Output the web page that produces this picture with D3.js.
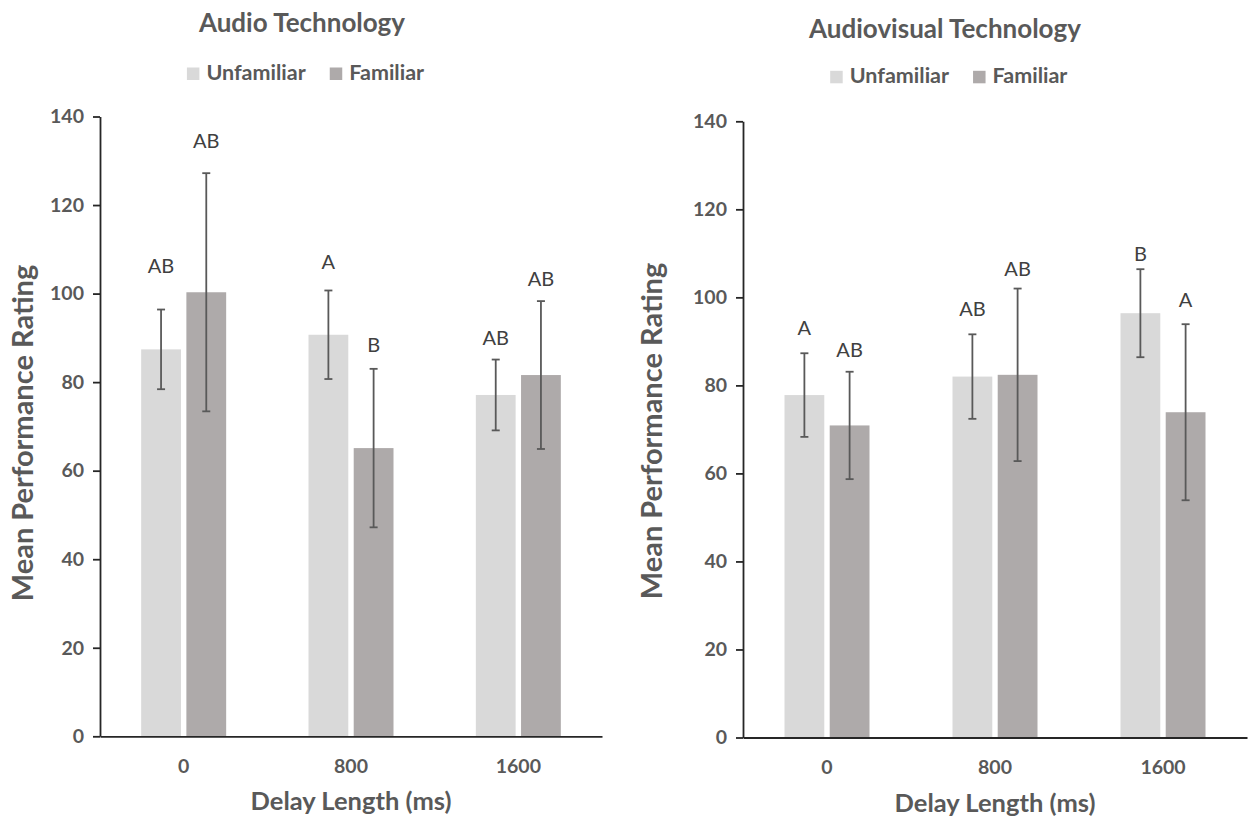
<!DOCTYPE html>
<html>
<head>
<meta charset="utf-8">
<script src="https://cdn.jsdelivr.net/npm/d3@7"></script>
<style>
  body { margin: 0; background: #fff; }
  svg text { font-family: Lato, "Open Sans", sans-serif; }
</style>
</head>
<body>
<div id="vis"></div>
<script>
// categories and series
var delays = ['0', '800', '1600'];
var seriesNames = ['Unfamiliar', 'Familiar'];
var yTicks = [0, 20, 40, 60, 80, 100, 120, 140];

// audio technology panel
var audioUnfamiliar = [87.4, 90.7, 77.1];
var audioFamiliar = [100.3, 65.1, 81.6];
var audioUnfamiliarErr = [9.0, 10.0, 8.0];
var audioFamiliarErr = [26.9, 17.9, 16.7];
var audioUnfamiliarLetters = ['AB', 'A', 'AB'];
var audioFamiliarLetters = ['AB', 'B', 'AB'];
var audioUnfamiliarLetterAt = [106.3, 107.1, 89.9];
var audioFamiliarLetterAt = [134.5, 88.4, 103.3];

// audiovisual technology panel
var avUnfamiliar = [77.8, 82.0, 96.4];
var avFamiliar = [70.9, 82.4, 73.9];
var avUnfamiliarErr = [9.5, 9.6, 10.0];
var avFamiliarErr = [12.2, 19.6, 20.0];
var avUnfamiliarLetters = ['A', 'AB', 'B'];
var avFamiliarLetters = ['AB', 'AB', 'A'];
var avUnfamiliarLetterAt = [93.0, 97.3, 109.8];
var avFamiliarLetterAt = [88.0, 106.4, 99.4];

var colors = { Unfamiliar: '#d9d9d9', Familiar: '#aeaaaa' };
var textGrey = '#595959';

var svg = d3.select('#vis').append('svg')
  .attr('width', 1248)
  .attr('height', 819);

function buildRows(unf, fam, unfErr, famErr, unfLet, famLet, unfAt, famAt) {
  var rows = [];
  for (var i = 0; i < delays.length; i++) {
    rows.push({ delay: delays[i], series: 'Unfamiliar', value: unf[i], err: unfErr[i], letter: unfLet[i], letterAt: unfAt[i] });
    rows.push({ delay: delays[i], series: 'Familiar', value: fam[i], err: famErr[i], letter: famLet[i], letterAt: famAt[i] });
  }
  return rows;
}

function drawPanel(p) {
  var g = svg.append('g');

  var x = d3.scaleBand().domain(delays).range([p.left, p.right]);
  var xs = d3.scaleBand().domain(seriesNames)
    .range([x.bandwidth() / 2 - 42.5, x.bandwidth() / 2 + 42.5])
    .paddingInner(0.12);
  var y = d3.scaleLinear().domain([0, 140]).range([p.bottom, p.top]);

  // title
  g.append('text')
    .attr('x', p.titleX)
    .attr('y', p.titleY)
    .attr('text-anchor', 'middle')
    .attr('font-size', 26)
    .attr('font-weight', 'bold')
    .attr('fill', textGrey)
    .text(p.title);

  // legend, centred on legendX
  var lg = g.append('g');
  var xpos = 0;
  seriesNames.forEach(function (s, i) {
    if (i > 0) xpos += 24;
    lg.append('rect')
      .attr('x', xpos)
      .attr('y', p.legendY - 12.5)
      .attr('width', 12.5)
      .attr('height', 12.5)
      .attr('fill', colors[s]);
    xpos += 19.5;
    var t = lg.append('text')
      .attr('x', xpos)
      .attr('y', p.legendY)
      .attr('font-size', 21.5)
      .attr('font-weight', 'bold')
      .attr('fill', textGrey)
      .text(s);
    xpos += t.node().getComputedTextLength();
  });
  lg.attr('transform', 'translate(' + (p.legendX - xpos / 2) + ',0)');

  // axes
  var yAxis = g.append('g')
    .attr('transform', 'translate(' + p.left + ',0)')
    .call(d3.axisLeft(y).tickValues(yTicks).tickSize(7).tickSizeOuter(0).tickPadding(9));
  yAxis.selectAll('line, path').attr('stroke', '#262626').attr('stroke-width', 1.8);
  yAxis.selectAll('text')
    .attr('font-size', 19.5)
    .attr('font-weight', 'bold')
    .attr('fill', textGrey);

  var rows = buildRows.apply(null, p.data);

  // bars
  g.selectAll('.bar')
    .data(rows)
    .enter()
    .append('rect')
    .attr('class', 'bar')
    .attr('x', function (d) { return x(d.delay) + xs(d.series); })
    .attr('y', function (d) { return y(d.value); })
    .attr('width', xs.bandwidth())
    .attr('height', function (d) { return y(0) - y(d.value); })
    .attr('fill', function (d) { return colors[d.series]; });

  // error bars
  var eb = g.selectAll('.err')
    .data(rows)
    .enter()
    .append('g')
    .attr('class', 'err')
    .attr('stroke', '#595959')
    .attr('stroke-width', 1.8);
  function cx(d) { return x(d.delay) + xs(d.series) + xs.bandwidth() / 2; }
  eb.append('line')
    .attr('x1', cx).attr('x2', cx)
    .attr('y1', function (d) { return y(d.value + d.err); })
    .attr('y2', function (d) { return y(d.value - d.err); });
  eb.append('line')
    .attr('x1', function (d) { return cx(d) - 4; })
    .attr('x2', function (d) { return cx(d) + 4; })
    .attr('y1', function (d) { return y(d.value + d.err); })
    .attr('y2', function (d) { return y(d.value + d.err); });
  eb.append('line')
    .attr('x1', function (d) { return cx(d) - 4; })
    .attr('x2', function (d) { return cx(d) + 4; })
    .attr('y1', function (d) { return y(d.value - d.err); })
    .attr('y2', function (d) { return y(d.value - d.err); });

  // significance letters
  g.selectAll('.letter')
    .data(rows)
    .enter()
    .append('text')
    .attr('class', 'letter')
    .attr('x', cx)
    .attr('y', function (d) { return y(d.letterAt); })
    .attr('dy', '0.36em')
    .attr('text-anchor', 'middle')
    .attr('font-size', 20)
    .attr('fill', '#404040')
    .text(function (d) { return d.letter; });

  // x axis
  var xAxis = g.append('g')
    .attr('transform', 'translate(0,' + y(0) + ')')
    .call(d3.axisBottom(x).tickSize(0).tickSizeOuter(0).tickPadding(23));
  xAxis.select('.domain').attr('stroke', '#262626').attr('stroke-width', 1.8);
  xAxis.selectAll('text')
    .attr('font-size', 19.5)
    .attr('font-weight', 'bold')
    .attr('fill', textGrey);

  // axis titles
  g.append('text')
    .attr('x', (p.left + p.right) / 2)
    .attr('y', p.bottom + 74)
    .attr('text-anchor', 'middle')
    .attr('font-size', 25.5)
    .attr('font-weight', 'bold')
    .attr('fill', textGrey)
    .text('Delay Length (ms)');

  g.append('text')
    .attr('transform', 'translate(' + p.yTitleX + ',' + p.yTitleY + ') rotate(-90)')
    .attr('text-anchor', 'middle')
    .attr('dy', '0.36em')
    .attr('font-size', 29)
    .attr('font-weight', 'bold')
    .attr('fill', textGrey)
    .text('Mean Performance Rating');
}

drawPanel({
  title: 'Audio Technology', titleX: 302, titleY: 32,
  legendX: 305.5, legendY: 80,
  left: 100, right: 602, top: 116.5, bottom: 736.3, yTitleX: 23, yTitleY: 433,
  data: [audioUnfamiliar, audioFamiliar, audioUnfamiliarErr, audioFamiliarErr,
    audioUnfamiliarLetters, audioFamiliarLetters, audioUnfamiliarLetterAt, audioFamiliarLetterAt]
});

drawPanel({
  title: 'Audiovisual Technology', titleX: 945, titleY: 38,
  legendX: 948.8, legendY: 83.3,
  left: 743, right: 1247, top: 121.3, bottom: 737.5, yTitleX: 652, yTitleY: 431,
  data: [avUnfamiliar, avFamiliar, avUnfamiliarErr, avFamiliarErr,
    avUnfamiliarLetters, avFamiliarLetters, avUnfamiliarLetterAt, avFamiliarLetterAt]
});
</script>
</body>
</html>
